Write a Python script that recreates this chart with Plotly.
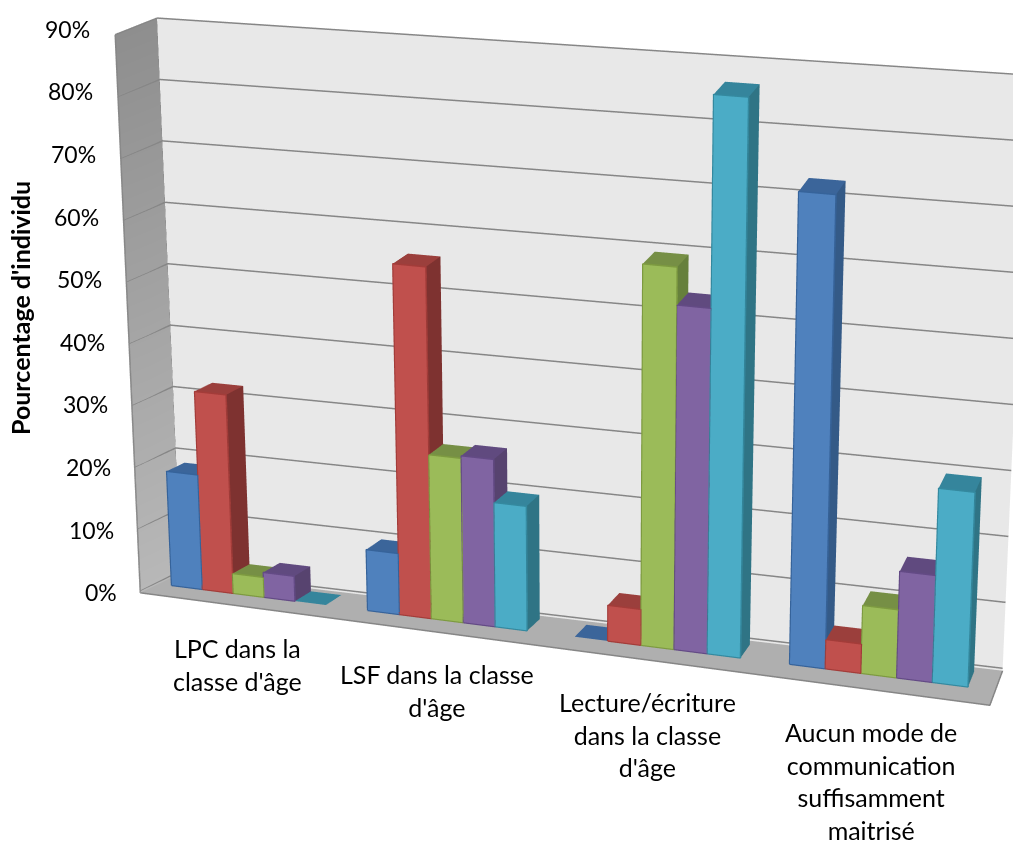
import plotly.graph_objects as go

categories = ["LPC dans la<br>classe d'âge", "LSF dans la classe<br>d'âge",
              "Lecture/écriture<br>dans la classe<br>d'âge",
              "Aucun mode de<br>communication<br>suffisamment<br>maitrisé"]
series_1 = [18.5, 9.7, 0, 72.9]
series_2 = [32, 55.8, 5.6, 4.5]
series_3 = [3.2, 26, 59.5, 10.4]
series_4 = [4, 26.4, 53.6, 16.3]
series_5 = [0, 19.6, 86.8, 29.6]
tick_values = [0, 10, 20, 30, 40, 50, 60, 70, 80, 90]
tick_labels = ["0%", "10%", "20%", "30%", "40%", "50%", "60%", "70%", "80%", "90%"]
axis_title = "Pourcentage d'individu"

FRONT = ["#4f81bd", "#c0504d", "#9bbb59", "#8064a2", "#4bacc6"]
TOP = ["#3b659a", "#9b3f3c", "#768f45", "#604a7f", "#35859c"]
SIDE = ["#345a87", "#7e3230", "#66803c", "#57436f", "#2f7485"]
EDGE = ["#36639a", "#a33c39", "#7d9a40", "#634a85", "#34899f"]
all_series = [series_1, series_2, series_3, series_4, series_5]

XR = [-0.3, 4.3]
YR = [-0.38, 1.40]
ZR = [-11, 102]
SX, SY, SZ = 914 / 4, 54.0, 595 / 90
norm = 93 * SZ
ZOOM = 1.45
aspect = dict(x=ZOOM * (XR[1] - XR[0]) * SX / norm, y=ZOOM * (YR[1] - YR[0]) * SY / norm,
              z=ZOOM * (ZR[1] - ZR[0]) * SZ / norm)
DELTA = (-0.092, -0.098, -0.160)
EYE = (0.692, -1.748, 0.672)

# Keystone of the box: Excel's 3-D view has a perspective that a fixed camera cannot
# give, so the box is narrowed towards the far end before the camera sees it.
BOX = {(0, 0, 0): (140, 592), (1, 0, 0): (990, 705), (1, 1, 0): (1003, 670), (0, 1, 0): (181, 572),
       (0, 0, 1): (115, 30), (1, 0, 1): (1011, 105), (1, 1, 1): (1029, 70), (0, 1, 1): (157, 13)}
CAM = dict(a0=138, ax=210.75, ay=20, b0=592, bx=28.25, by=-17, bz=-562 / 90)


def warp(c, d, h):
    tc, th = c / 4, h / 90
    u = v = 0
    for (i, j, k), (pu, pv) in BOX.items():
        w = (tc if i else 1 - tc) * (d if j else 1 - d) * (th if k else 1 - th)
        u += w * pu
        v += w * pv
    x = (u - CAM["a0"] - CAM["ay"] * d) / CAM["ax"]
    z = (v - CAM["b0"] - CAM["bx"] * x - CAM["by"] * d) / CAM["bz"]
    return x, d, z


def push_back(q, t=0.05):
    # same place on screen, only farther: keeps the slightly warped floor under flat bars
    n = sum(e * e for e in EYE) ** 0.5
    sx = aspect["x"] / (XR[1] - XR[0])
    sy = aspect["y"] / (YR[1] - YR[0])
    sz = aspect["z"] / (ZR[1] - ZR[0])
    return q[0] - t * EYE[0] / n / sx, q[1] - t * EYE[1] / n / sy, q[2] - t * EYE[2] / n / sz


GROUP_START = [0.08, 1.014, 2.0, 3.024]
SLOT = [0.147, 0.152, 0.158, 0.170]
LABEL_POS = [0.457, 1.395, 2.39, 3.44]
Y0, Y1 = 0.36, 0.80
GREY = "#868686"


class Mesh:
    def __init__(self):
        self.x, self.y, self.z, self.i, self.j, self.k, self.c = [], [], [], [], [], [], []

    def quad(self, pts, color, back=False):
        n = len(self.x)
        for p in pts:
            q = warp(*p)
            if back:
                q = push_back(q)
            self.x.append(q[0]); self.y.append(q[1]); self.z.append(q[2])
        self.i += [n, n]; self.j += [n + 1, n + 2]; self.k += [n + 2, n + 3]
        self.c += [color, color]


def polyline(paths):
    xs, ys, zs = [], [], []
    for path in paths:
        for p in path:
            q = warp(*p)
            xs.append(q[0]); ys.append(q[1]); zs.append(q[2])
        xs.append(None); ys.append(None); zs.append(None)
    return xs, ys, zs


LIGHT = dict(ambient=1, diffuse=0, specular=0, roughness=1, fresnel=0)
fig = go.Figure()

# walls and floor
walls = Mesh()
walls.quad([(0, 1, -0.4), (4, 1, -0.4), (4, 1, 90), (0, 1, 90)], "#e8e8e8")
walls.quad([(0, 0, -0.4), (4, 0, -0.4), (4, 1, -0.4), (0, 1, -0.4)], "#afafaf", back=True)
fig.add_trace(go.Mesh3d(x=walls.x, y=walls.y, z=walls.z, i=walls.i, j=walls.j, k=walls.k,
                        facecolor=walls.c, flatshading=True, lighting=LIGHT, hoverinfo="skip"))
lw = [warp(0, 0, -0.4), warp(0, 1, -0.4), warp(0, 1, 90), warp(0, 0, 90)]
fig.add_trace(go.Mesh3d(x=[p[0] for p in lw], y=[p[1] for p in lw], z=[p[2] for p in lw],
                        i=[0, 0], j=[1, 2], k=[2, 3],
                        vertexcolor=["#b8b8b8", "#b8b8b8", "#8e8e8e", "#8e8e8e"],
                        lighting=LIGHT, hoverinfo="skip"))

# grid lines
gx, gy, gz = polyline([[(0, 0, v), (0.002, 0.995, v), (4, 0.995, v)] for v in tick_values])
fig.add_trace(go.Scatter3d(x=gx, y=gy, z=gz, mode="lines", line=dict(color=GREY, width=3), hoverinfo="skip"))
fx, fy, fz = polyline([[(0, 1, -0.4), (0, 1, 90)], [(0, 0, -0.4), (0, 0, 90)],
                       [(0, 0, -0.4), (4, 0, -0.4), (4, 1, -0.4)]])
fig.add_trace(go.Scatter3d(x=fx, y=fy, z=fz, mode="lines", line=dict(color=GREY, width=3), hoverinfo="skip"))

# bars
for s, vals in enumerate(all_series):
    m = Mesh()
    outline = []
    for c, v in enumerate(vals):
        x0 = GROUP_START[c] + s * SLOT[c]
        x1 = x0 + SLOT[c]
        m.quad([(x0, Y0, v), (x1, Y0, v), (x1, Y1, v), (x0, Y1, v)], TOP[s])
        if v > 0:
            m.quad([(x0, Y0, 0), (x1, Y0, 0), (x1, Y0, v), (x0, Y0, v)], FRONT[s])
            m.quad([(x1, Y0, 0), (x1, Y1, 0), (x1, Y1, v), (x1, Y0, v)], SIDE[s])
            e = Y0 - 0.003
            outline.append([(x0, e, 0), (x1, e, 0), (x1, e, v), (x0, e, v), (x0, e, 0)])
    fig.add_trace(go.Mesh3d(x=m.x, y=m.y, z=m.z, i=m.i, j=m.j, k=m.k, facecolor=m.c,
                            flatshading=True, lighting=LIGHT, hoverinfo="skip"))
    ex, ey, ez = polyline(outline)
    fig.add_trace(go.Scatter3d(x=ex, y=ey, z=ez, mode="lines", line=dict(color=EDGE[s], width=3), hoverinfo="skip"))

FONT = dict(family="Lato, Liberation Sans, sans-serif", color="#000000")
ann = []
for v, lab in zip(tick_values, tick_labels):
    q = warp(0, 0, v)
    ann.append(dict(x=q[0], y=q[1], z=q[2], text=lab, showarrow=False, xanchor="right", yanchor="middle",
                    xshift=-21 - 2 * v / 90, yshift=-2 + 8 * v / 90, font=dict(size=23, **FONT)))
for c, lab in enumerate(categories):
    q = warp(LABEL_POS[c], 0, -0.4)
    ann.append(dict(x=q[0], y=q[1], z=q[2], text=lab, showarrow=False, xanchor="center", yanchor="top",
                    yshift=-25, font=dict(size=25, **FONT)))

hidden = dict(visible=False, showgrid=False, zeroline=False, showspikes=False)
fig.update_layout(
    width=1021, height=841, margin=dict(l=0, r=0, t=0, b=0), paper_bgcolor="white", showlegend=False,
    scene=dict(
        domain=dict(x=[0, 1], y=[0, 1]),
        xaxis=dict(range=XR, **hidden), yaxis=dict(range=YR, **hidden), zaxis=dict(range=ZR, **hidden),
        aspectmode="manual", aspectratio=aspect,
        camera=dict(projection=dict(type="orthographic"),
                    eye=dict(x=EYE[0] + DELTA[0], y=EYE[1] + DELTA[1], z=EYE[2] + DELTA[2]),
                    center=dict(x=DELTA[0], y=DELTA[1], z=DELTA[2]), up=dict(x=0, y=0, z=1)),
        annotations=ann,
    ),
    annotations=[dict(x=12 / 1021, y=1 - 300 / 841, xref="paper", yref="paper", text="<b>%s</b>" % axis_title,
                      xanchor="center", yanchor="middle",
                      textangle=-90, showarrow=False, font=dict(size=25, **FONT))],
)
fig.write_html("out.html")
